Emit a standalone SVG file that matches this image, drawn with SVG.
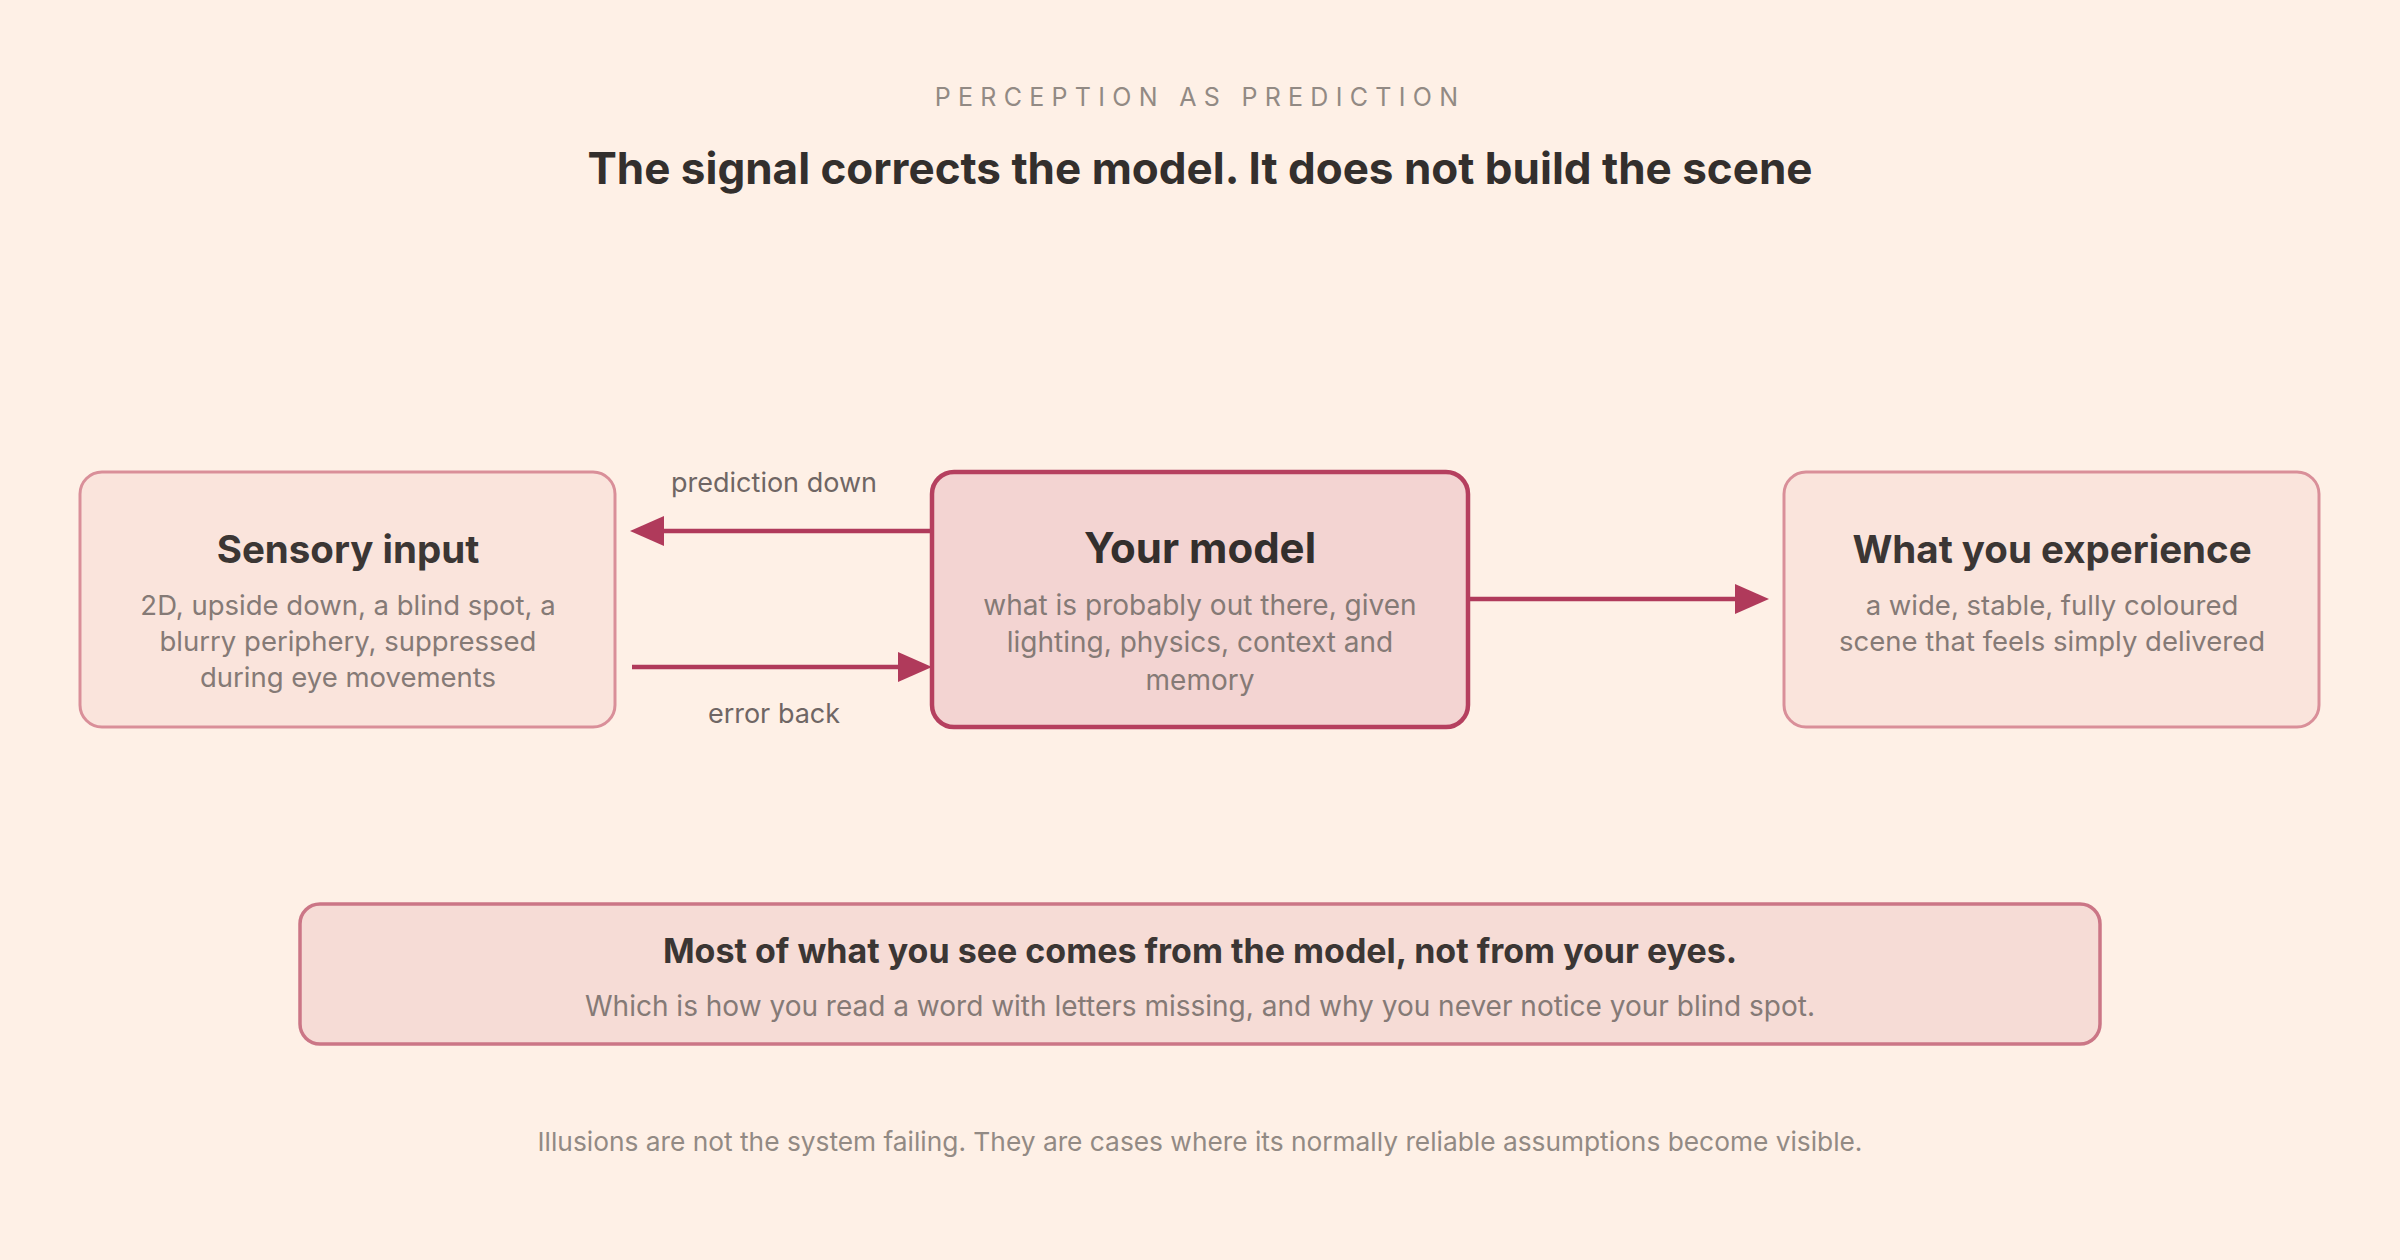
<svg xmlns="http://www.w3.org/2000/svg" width="2400" height="1260" viewBox="0 0 2400 1260">
<style>
text{font-family:Inter,"Noto Sans","Liberation Sans",sans-serif;text-anchor:middle}
.t{font-size:38.5px;font-weight:700;fill:#3b3634}
.s{font-size:27.5px;fill:#857a76}
.lab{font-size:27px;fill:#6f6664}
.box{fill:#fae4dc;stroke:#d98f99;stroke-width:3}
.conn{stroke:#b03a5b;stroke-width:4.5;fill:none}
</style>
<rect width="2400" height="1260" fill="#fef0e6"/>
<text x="1200" y="106" style="font-size:25px;letter-spacing:7.3px;fill:#928a84">PERCEPTION AS PREDICTION</text>
<text x="1200" y="184" style="font-size:44px;font-weight:700;fill:#332f2d">The signal corrects the model. It does not build the scene</text>
<g id="connectors">
<line class="conn" x1="932" y1="531" x2="664" y2="531"/><path d="M630,531 L664,516 L664,546 z" fill="#b03a5b"/>
<line class="conn" x1="632" y1="667" x2="898" y2="667"/><path d="M932,667 L898,652 L898,682 z" fill="#b03a5b"/>
<line class="conn" x1="1468" y1="599" x2="1735" y2="599"/><path d="M1769,599 L1735,584 L1735,614 z" fill="#b03a5b"/>
<text class="lab" x="774" y="492">prediction down</text>
<text class="lab" x="774" y="723">error back</text>
</g>
<g id="sensory">
<rect class="box" x="80" y="472" width="535" height="255" rx="22"/>
<text class="t" x="348" y="563">Sensory input</text>
<text class="s" x="348" y="615">2D, upside down, a blind spot, a</text>
<text class="s" x="348" y="651">blurry periphery, suppressed</text>
<text class="s" x="348" y="687">during eye movements</text>
</g>
<g id="model">
<rect x="932" y="472" width="536" height="255" rx="22" fill="#f3d4d2" stroke="#b5405f" stroke-width="4.5"/>
<text class="t" x="1200" y="563" style="font-size:42px;fill:#332f2d">Your model</text>
<text class="s" x="1200" y="615" style="font-size:28px">what is probably out there, given</text>
<text class="s" x="1200" y="652" style="font-size:28px">lighting, physics, context and</text>
<text class="s" x="1200" y="690" style="font-size:28px">memory</text>
</g>
<g id="experience">
<rect class="box" x="1784" y="472" width="535" height="255" rx="22"/>
<text class="t" x="2052" y="563">What you experience</text>
<text class="s" x="2052" y="615">a wide, stable, fully coloured</text>
<text class="s" x="2052" y="651">scene that feels simply delivered</text>
</g>
<g id="note">
<rect x="300" y="904" width="1800" height="140" rx="20" fill="#f6dcd6" stroke="#cb7686" stroke-width="3.5"/>
<text x="1200" y="963" style="font-size:34px;font-weight:700;fill:#3b3634">Most of what you see comes from the model, not from your eyes.</text>
<text x="1200" y="1016" style="font-size:28px;fill:#857a76">Which is how you read a word with letters missing, and why you never notice your blind spot.</text>
</g>
<text x="1200" y="1151" style="font-size:26.3px;fill:#928a84">Illusions are not the system failing. They are cases where its normally reliable assumptions become visible.</text>
</svg>
